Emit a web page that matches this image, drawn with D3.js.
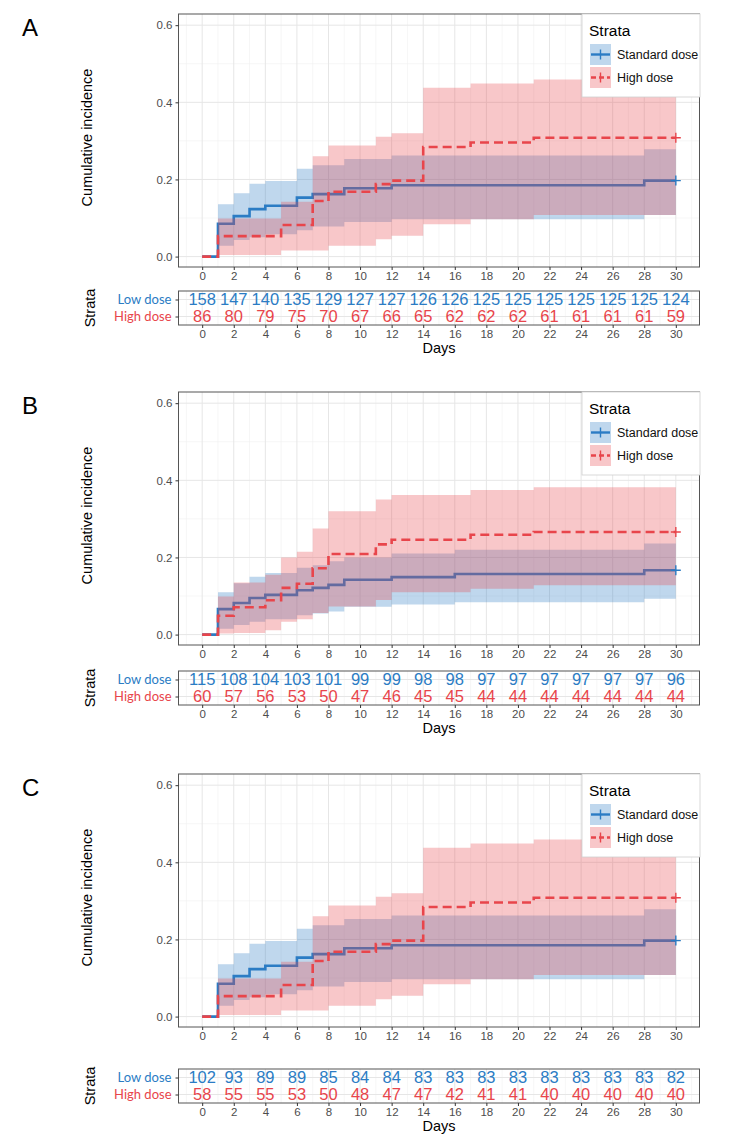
<!DOCTYPE html>
<html>
<head>
<meta charset="utf-8">
<script src="https://cdn.jsdelivr.net/npm/d3@7"></script>
<style>
  body { margin: 0; background: #fff; }
  svg { display: block; font-family: "Liberation Sans", Arial, sans-serif; }
  .tick-label { font-size: 11.5px; fill: #4d4d4d; }
  .axis-title { font-size: 14.5px; fill: #000; }
</style>
</head>
<body>
<div id="chart"></div>
<script>
// Step curves (time, estimate, lower CI, upper CI)
const stdA_time = [0, 1, 2, 3, 4, 6, 7, 9, 12, 28, 30];
const stdA_est  = [0, 0.085, 0.105, 0.123, 0.132, 0.153, 0.162, 0.177, 0.185, 0.197, 0.197];
const stdA_low  = [0, 0.028, 0.043, 0.050, 0.058, 0.068, 0.078, 0.090, 0.097, 0.108, 0.108];
const stdA_upp  = [0, 0.136, 0.164, 0.189, 0.196, 0.228, 0.237, 0.253, 0.262, 0.278, 0.278];

const highA_time = [0, 1, 5, 7, 8, 11, 12, 14, 17, 21, 30];
const highA_est  = [0, 0.053, 0.082, 0.144, 0.168, 0.188, 0.197, 0.284, 0.296, 0.308, 0.308];
const highA_low  = [0, 0.004, 0.016, 0.016, 0.028, 0.045, 0.054, 0.084, 0.097, 0.108, 0.108];
const highA_upp  = [0, 0.099, 0.142, 0.260, 0.288, 0.311, 0.320, 0.438, 0.449, 0.459, 0.459];

const stdB_time = [0, 1, 2, 3, 4, 6, 7, 8, 9, 12, 16, 28, 30];
const stdB_est  = [0, 0.066, 0.082, 0.095, 0.103, 0.115, 0.121, 0.129, 0.142, 0.149, 0.157, 0.167, 0.167];
const stdB_low  = [0, 0.015, 0.025, 0.033, 0.040, 0.050, 0.055, 0.060, 0.072, 0.078, 0.084, 0.093, 0.093];
const stdB_upp  = [0, 0.110, 0.133, 0.150, 0.160, 0.173, 0.180, 0.190, 0.200, 0.210, 0.220, 0.236, 0.236];

const highB_time = [0, 1, 2, 4, 5, 6, 7, 8, 11, 12, 17, 21, 30];
const highB_est  = [0, 0.049, 0.071, 0.089, 0.121, 0.132, 0.172, 0.209, 0.234, 0.246, 0.259, 0.266, 0.266];
const highB_low  = [0, 0.003, 0.004, 0.011, 0.033, 0.040, 0.056, 0.073, 0.090, 0.110, 0.119, 0.128, 0.128];
const highB_upp  = [0, 0.099, 0.135, 0.155, 0.200, 0.215, 0.275, 0.320, 0.350, 0.362, 0.375, 0.382, 0.382];

// Panel C shows the same curves as panel A
const stdC_time = [0, 1, 2, 3, 4, 6, 7, 9, 12, 28, 30];
const stdC_est  = [0, 0.085, 0.105, 0.123, 0.132, 0.153, 0.162, 0.177, 0.185, 0.197, 0.197];
const stdC_low  = [0, 0.028, 0.043, 0.050, 0.058, 0.068, 0.078, 0.090, 0.097, 0.108, 0.108];
const stdC_upp  = [0, 0.136, 0.164, 0.189, 0.196, 0.228, 0.237, 0.253, 0.262, 0.278, 0.278];

const highC_time = [0, 1, 5, 7, 8, 11, 12, 14, 17, 21, 30];
const highC_est  = [0, 0.053, 0.082, 0.144, 0.168, 0.188, 0.197, 0.284, 0.296, 0.308, 0.308];
const highC_low  = [0, 0.004, 0.016, 0.016, 0.028, 0.045, 0.054, 0.084, 0.097, 0.108, 0.108];
const highC_upp  = [0, 0.099, 0.142, 0.260, 0.288, 0.311, 0.320, 0.438, 0.449, 0.459, 0.459];

// Number at risk tables
const riskDays = [0, 2, 4, 6, 8, 10, 12, 14, 16, 18, 20, 22, 24, 26, 28, 30];
const riskA_low  = [158, 147, 140, 135, 129, 127, 127, 126, 126, 125, 125, 125, 125, 125, 125, 124];
const riskA_high = [86, 80, 79, 75, 70, 67, 66, 65, 62, 62, 62, 61, 61, 61, 61, 59];
const riskB_low  = [115, 108, 104, 103, 101, 99, 99, 98, 98, 97, 97, 97, 97, 97, 97, 96];
const riskB_high = [60, 57, 56, 53, 50, 47, 46, 45, 45, 44, 44, 44, 44, 44, 44, 44];
const riskC_low  = [102, 93, 89, 89, 85, 84, 84, 83, 83, 83, 83, 83, 83, 83, 83, 82];
const riskC_high = [58, 55, 55, 53, 50, 48, 47, 47, 42, 41, 41, 40, 40, 40, 40, 40];

const yTicks = [0, 0.2, 0.4, 0.6];
const yMinor = [0.1, 0.3, 0.5];
const xTicks = [0, 2, 4, 6, 8, 10, 12, 14, 16, 18, 20, 22, 24, 26, 28, 30];
const xMinor = [-1, 1, 3, 5, 7, 9, 11, 13, 15, 17, 19, 21, 23, 25, 27, 29, 31];
const rowLabels = ["Low dose", "High dose"];
const legendLabels = ["Standard dose", "High dose"];

const blue = "#2b7cc4";
const red = "#e8454b";

const width = 744, height = 1140;

const svg = d3.select("#chart")
    .append("svg")
    .attr("width", width)
    .attr("height", height);

const xScale = d3.scaleLinear().domain([-1.5, 31.5]).range([178.5, 699.5]);
const yScale = d3.scaleLinear().domain([-0.027, 0.629]).range([267, 14]);

const toRows = (time, est, low, upp) => time.map((t, i) => ({ t, est: est[i], low: low[i], upp: upp[i] }));

const line = d3.line().x(d => xScale(d.t)).y(d => yScale(d.est)).curve(d3.curveStepAfter);
const area = d3.area().x(d => xScale(d.t)).y0(d => yScale(d.low)).y1(d => yScale(d.upp)).curve(d3.curveStepAfter);

const drawPanel = (p) => {
    const g = svg.append("g").attr("transform", `translate(0, ${p.yOff})`);
    const [x0, x1] = xScale.range();
    const [yb, yt] = yScale.range();

    // panel label
    g.append("text").text(p.label)
        .attr("x", 22).attr("y", 36)
        .style("font-size", "24px");

    // background grid
    g.selectAll(".xminor").data(xMinor).join("line")
        .attr("x1", d => xScale(d)).attr("x2", d => xScale(d))
        .attr("y1", yt).attr("y2", yb)
        .attr("stroke", "#f0f0f0").attr("stroke-width", 0.6);
    g.selectAll(".yminor").data(yMinor).join("line")
        .attr("x1", x0).attr("x2", x1)
        .attr("y1", d => yScale(d)).attr("y2", d => yScale(d))
        .attr("stroke", "#f0f0f0").attr("stroke-width", 0.6);
    g.selectAll(".xmajor").data(xTicks).join("line")
        .attr("x1", d => xScale(d)).attr("x2", d => xScale(d))
        .attr("y1", yt).attr("y2", yb)
        .attr("stroke", "#e6e6e6").attr("stroke-width", 1);
    g.selectAll(".ymajor").data(yTicks).join("line")
        .attr("x1", x0).attr("x2", x1)
        .attr("y1", d => yScale(d)).attr("y2", d => yScale(d))
        .attr("stroke", "#e6e6e6").attr("stroke-width", 1);

    const std = toRows(...p.std);
    const high = toRows(...p.high);

    // ribbons and lines: red ribbon sits over the blue line
    g.append("path").datum(std).attr("d", area).attr("fill", blue).attr("fill-opacity", 0.3);
    g.append("path").datum(std).attr("d", line)
        .attr("fill", "none").attr("stroke", blue).attr("stroke-width", 2.6);
    g.append("path").datum(high).attr("d", area).attr("fill", red).attr("fill-opacity", 0.3);
    g.append("path").datum(high).attr("d", line)
        .attr("fill", "none").attr("stroke", red).attr("stroke-width", 2.6)
        .attr("stroke-dasharray", "9,5");

    // censor marks at the end
    [[std[std.length - 1], blue], [high[high.length - 1], red]].forEach(([d, c]) => {
        const cx = xScale(d.t), cy = yScale(d.est);
        g.append("path")
            .attr("d", `M${cx - 5},${cy}H${cx + 5}M${cx},${cy - 5}V${cy + 5}`)
            .attr("stroke", c).attr("stroke-width", 1.4);
    });

    // panel border
    g.append("rect")
        .attr("x", x0).attr("y", yt)
        .attr("width", x1 - x0).attr("height", yb - yt)
        .attr("fill", "none").attr("stroke", "#555").attr("stroke-width", 1);

    // axes
    const leftAxis = d3.axisLeft(yScale).tickValues(yTicks).tickFormat(d3.format(".1f")).tickSize(3).tickPadding(3);
    g.append("g").attr("transform", `translate(${x0},0)`).call(leftAxis)
        .call(a => a.select(".domain").remove())
        .call(a => a.selectAll("line").attr("stroke", "#333"))
        .call(a => a.selectAll("text").attr("class", "tick-label").style("font-family", "Liberation Sans, Arial"));

    const bottomAxis = d3.axisBottom(xScale).tickValues(xTicks).tickSize(3).tickPadding(2);
    g.append("g").attr("transform", `translate(0,${yb})`).call(bottomAxis)
        .call(a => a.select(".domain").remove())
        .call(a => a.selectAll("line").attr("stroke", "#333"))
        .call(a => a.selectAll("text").attr("class", "tick-label").style("font-family", "Liberation Sans, Arial"));

    g.append("text").text("Cumulative incidence")
        .attr("class", "axis-title")
        .attr("text-anchor", "middle")
        .attr("transform", `translate(92, ${(yt + yb) / 2 - 3}) rotate(-90)`);

    // legend
    const legend = g.append("g").attr("transform", `translate(582, 14)`);
    legend.append("rect").attr("width", 118).attr("height", 83)
        .attr("fill", "#fff").attr("stroke", "#d0d0d0").attr("stroke-width", 0.8);
    legend.append("text").text("Strata").attr("x", 7).attr("y", 22).style("font-size", "15.5px");
    legendLabels.forEach((lab, i) => {
        const c = i === 0 ? blue : red;
        const k = legend.append("g").attr("transform", `translate(8, ${30 + i * 23})`);
        k.append("rect").attr("width", 21).attr("height", 21).attr("fill", c).attr("fill-opacity", 0.3);
        k.append("line").attr("x1", 1).attr("x2", 20).attr("y1", 10.5).attr("y2", 10.5)
            .attr("stroke", c).attr("stroke-width", 2.4)
            .attr("stroke-dasharray", i === 0 ? null : "5,3");
        k.append("line").attr("x1", 10.5).attr("x2", 10.5).attr("y1", 5.5).attr("y2", 15.5)
            .attr("stroke", c).attr("stroke-width", 1.4);
        k.append("text").text(lab).attr("x", 27).attr("y", 15).style("font-size", "12.5px").attr("fill", "#111");
    });

    // risk table
    const t = svg.append("g").attr("transform", `translate(0, ${p.tOff})`);
    const rowScale = d3.scalePoint().domain(rowLabels).range([291, 325]).padding(0.5);
    t.selectAll(".txminor").data(xMinor).join("line")
        .attr("x1", d => xScale(d)).attr("x2", d => xScale(d))
        .attr("y1", 291).attr("y2", 325)
        .attr("stroke", "#f0f0f0").attr("stroke-width", 0.6);
    t.selectAll(".txmajor").data(xTicks).join("line")
        .attr("x1", d => xScale(d)).attr("x2", d => xScale(d))
        .attr("y1", 291).attr("y2", 325)
        .attr("stroke", "#e6e6e6").attr("stroke-width", 1);
    t.selectAll(".tymajor").data(rowLabels).join("line")
        .attr("x1", x0).attr("x2", x1)
        .attr("y1", d => rowScale(d)).attr("y2", d => rowScale(d))
        .attr("stroke", "#e6e6e6").attr("stroke-width", 1);

    [[p.riskLow, blue, rowLabels[0]], [p.riskHigh, red, rowLabels[1]]].forEach(([vals, c, r]) => {
        t.selectAll(null).data(vals).join("text")
            .text(d => d)
            .attr("x", (d, i) => xScale(riskDays[i]))
            .attr("y", rowScale(r))
            .attr("dy", "0.36em")
            .attr("text-anchor", "middle")
            .attr("fill", c)
            .style("font-size", "16.5px");
    });

    t.append("rect")
        .attr("x", x0).attr("y", 291)
        .attr("width", x1 - x0).attr("height", 34)
        .attr("fill", "none").attr("stroke", "#555").attr("stroke-width", 1);

    const rowAxis = d3.axisLeft(rowScale).tickSize(3).tickPadding(4);
    t.append("g").attr("transform", `translate(${x0},0)`).call(rowAxis)
        .call(a => a.select(".domain").remove())
        .call(a => a.selectAll("line").attr("stroke", "#333"))
        .call(a => a.selectAll("text")
            .attr("fill", (d, i) => i === 0 ? blue : red)
            .style("font-size", "13px")
            .style("font-family", "Lato, 'Open Sans', sans-serif"));

    const tableAxis = d3.axisBottom(xScale).tickValues(riskDays).tickSize(3).tickPadding(2);
    t.append("g").attr("transform", `translate(0,325)`).call(tableAxis)
        .call(a => a.select(".domain").remove())
        .call(a => a.selectAll("line").attr("stroke", "#333"))
        .call(a => a.selectAll("text").attr("class", "tick-label").style("font-family", "'Liberation Sans Narrow', 'Liberation Sans', Arial"));

    t.append("text").text("Strata")
        .attr("class", "axis-title")
        .attr("text-anchor", "middle")
        .attr("transform", `translate(95, 308) rotate(-90)`);

    t.append("text").text("Days")
        .attr("class", "axis-title")
        .attr("text-anchor", "middle")
        .attr("x", 439).attr("y", 353);
};

drawPanel({ label: "A", yOff: 0, tOff: 0,
    std: [stdA_time, stdA_est, stdA_low, stdA_upp], high: [highA_time, highA_est, highA_low, highA_upp],
    riskLow: riskA_low, riskHigh: riskA_high });
drawPanel({ label: "B", yOff: 378, tOff: 380,
    std: [stdB_time, stdB_est, stdB_low, stdB_upp], high: [highB_time, highB_est, highB_low, highB_upp],
    riskLow: riskB_low, riskHigh: riskB_high });
drawPanel({ label: "C", yOff: 760, tOff: 778,
    std: [stdC_time, stdC_est, stdC_low, stdC_upp], high: [highC_time, highC_est, highC_low, highC_upp],
    riskLow: riskC_low, riskHigh: riskC_high });
</script>
</body>
</html>
